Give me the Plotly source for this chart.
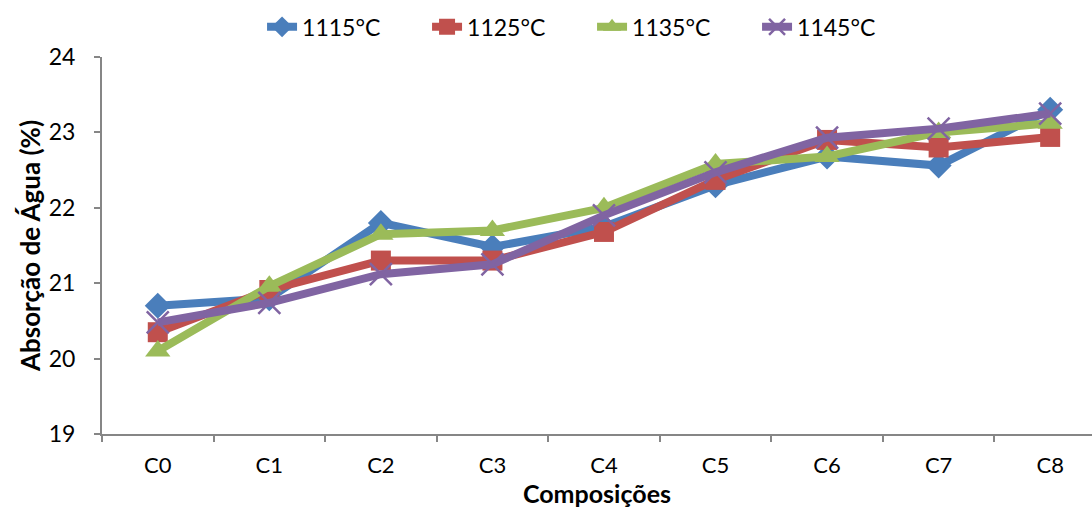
import plotly.graph_objects as go

categories = ["C0", "C1", "C2", "C3", "C4", "C5", "C6", "C7", "C8"]
s1115 = [20.70, 20.80, 21.80, 21.48, 21.75, 22.30, 22.68, 22.56, 23.30]
s1125 = [20.35, 20.91, 21.30, 21.30, 21.68, 22.37, 22.90, 22.80, 22.94]
s1135 = [20.10, 20.96, 21.65, 21.70, 22.00, 22.58, 22.68, 23.00, 23.12]
s1145 = [20.48, 20.74, 21.12, 21.25, 21.90, 22.47, 22.93, 23.05, 23.25]
names = ["1115°C", "1125°C", "1135°C", "1145°C"]

series = [s1115, s1125, s1135, s1145]
colors = ["#4A7EBB", "#C0504D", "#9BBB59", "#8064A2"]
symbols = ["diamond", "square", "triangle-up", "x-thin-open"]
sizes = [20, 20, 22, 22]

fig = go.Figure()
for vals, name, c, sym, sz in zip(series, names, colors, symbols, sizes):
    marker = dict(symbol=sym, size=sz, color=c)
    if sym == "x-thin-open":
        marker["line"] = dict(color=c, width=2.5)
    else:
        marker["line"] = dict(color=c, width=0)
    fig.add_trace(go.Scatter(
        x=categories, y=vals, name=name, mode="lines+markers",
        line=dict(color=c, width=8), marker=marker,
    ))

font_family = "Lato, 'Open Sans', sans-serif"
fig.update_layout(
    width=1092, height=508,
    margin=dict(l=102, r=0, t=57, b=74),
    paper_bgcolor="white", plot_bgcolor="white",
    font=dict(family=font_family, size=23, color="#000000"),
    showlegend=True,
    legend=dict(orientation="h", xref="paper", yref="paper",
                x=0.495, xanchor="center", y=1.08, yanchor="middle",
                font=dict(size=23), entrywidth=120, entrywidthmode="pixels",
                tracegroupgap=0, bgcolor="rgba(0,0,0,0)"),
    xaxis=dict(
        type="category", range=[-0.5, 8.375],
        showgrid=False, showline=True, linecolor="#868686", linewidth=2,
        ticks="outside", tickson="boundaries", ticklen=6, tickcolor="#868686",
        tickwidth=2, tickfont=dict(size=22), ticklabelstandoff=11,
        title=dict(text="<b>Composições</b>", font=dict(size=25), standoff=3),
    ),
    yaxis=dict(
        range=[19, 24], dtick=1, showgrid=False, zeroline=False,
        showline=True, linecolor="#868686", linewidth=2,
        ticks="outside", ticklen=6, tickcolor="#868686", tickwidth=2,
        tickfont=dict(size=23), ticklabelstandoff=14,
        title=dict(text="<b>Absorção de Água (%)</b>", font=dict(size=26), standoff=1),
    ),
)

fig.write_html("out.html")
